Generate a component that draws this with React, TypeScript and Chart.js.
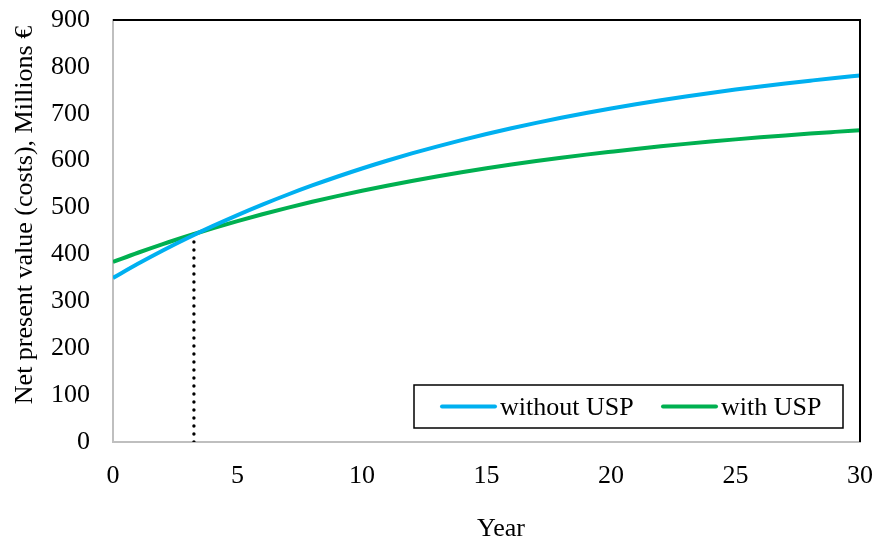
import React, { useEffect, useRef } from "react";
import { Chart, registerables } from "chart.js";

Chart.register(...registerables);

const years = [0, 1, 2, 3, 4, 5, 6, 7, 8, 9, 10, 11, 12, 13, 14, 15, 16, 17, 18, 19, 20, 21, 22, 23, 24, 25, 26, 27, 28, 29, 30];
const withoutUSP = [350, 380.1, 408.5, 435.2, 460.3, 484.0, 506.3, 527.3, 547.1, 565.7, 583.3, 599.8, 615.4, 630.0, 643.8, 656.8, 669.0, 680.6, 691.4, 701.7, 711.3, 720.4, 728.9, 736.9, 744.5, 751.6, 758.4, 764.7, 770.6, 776.3, 781.5];
const withUSP = [384, 403.6, 422.1, 439.4, 455.8, 471.2, 485.7, 499.4, 512.3, 524.4, 535.8, 546.6, 556.7, 566.2, 575.2, 583.7, 591.7, 599.2, 606.2, 612.9, 619.1, 625.1, 630.6, 635.8, 640.8, 645.4, 649.8, 653.9, 657.8, 661.4, 664.9];
const breakEvenYear = 3.25;
const breakEvenValue = 445;
const seriesLabels = ["without USP", "with USP"];
const xTitle = "Year";
const yTitle = "Net present value (costs), Millions €";

const FONT = "Liberation Serif";
const BLUE = "#00B0F0";
const GREEN = "#00B050";

const decorPlugin = {
  id: "decor",
  afterDraw(chart: any) {
    const ctx = chart.ctx;
    const a = chart.chartArea;
    ctx.save();
    // top and right frame (black)
    ctx.strokeStyle = "#000";
    ctx.lineWidth = 2;
    ctx.beginPath();
    ctx.moveTo(a.left, a.top);
    ctx.lineTo(a.right, a.top);
    ctx.lineTo(a.right, a.bottom);
    ctx.stroke();

    // legend box
    ctx.fillStyle = "#fff";
    ctx.fillRect(414, 385, 429, 43);
    ctx.strokeStyle = "#000";
    ctx.lineWidth = 1.5;
    ctx.strokeRect(414, 385, 429, 43);
    const items = [
      { color: BLUE, x0: 442, x1: 495, tx: 500, label: chart.data.datasets[0].label },
      { color: GREEN, x0: 663, x1: 716, tx: 721, label: chart.data.datasets[1].label },
    ];
    ctx.font = `26px "${FONT}"`;
    ctx.textBaseline = "alphabetic";
    ctx.textAlign = "left";
    for (const it of items) {
      ctx.strokeStyle = it.color;
      ctx.lineWidth = 4;
      ctx.lineCap = "round";
      ctx.beginPath();
      ctx.moveTo(it.x0, 406.5);
      ctx.lineTo(it.x1, 406.5);
      ctx.stroke();
      ctx.fillStyle = "#000";
      ctx.fillText(it.label, it.tx, 415);
    }

    // axis titles
    ctx.fillStyle = "#000";
    ctx.textAlign = "center";
    ctx.fillText(xTitle, 501, 536);
    ctx.translate(32, 215);
    ctx.rotate(-Math.PI / 2);
    ctx.fillText(yTitle, 0, 0);
    ctx.restore();
  },
};

export default function App() {
  const ref = useRef<HTMLCanvasElement | null>(null);
  useEffect(() => {
    if (!ref.current) return;
    Chart.defaults.font.family = FONT;
    const chart = new Chart(ref.current, {
      type: "line",
      data: {
        datasets: [
          {
            label: seriesLabels[0],
            data: years.map((x, i) => ({ x, y: withoutUSP[i] })),
            borderColor: BLUE,
            borderWidth: 4,
            pointRadius: 0,
            cubicInterpolationMode: "monotone",
          },
          {
            label: seriesLabels[1],
            data: years.map((x, i) => ({ x, y: withUSP[i] })),
            borderColor: GREEN,
            borderWidth: 4,
            pointRadius: 0,
            cubicInterpolationMode: "monotone",
          },
          {
            label: "break-even",
            data: [
              { x: breakEvenYear, y: 0 },
              { x: breakEvenYear, y: breakEvenValue },
            ],
            borderColor: "#000",
            borderWidth: 3.4,
            borderDash: [0, 8],
            borderCapStyle: "round",
            pointRadius: 0,
          },
        ],
      },
      options: {
        animation: false,
        responsive: false,
        devicePixelRatio: 1,
        layout: { padding: { left: 0, top: 20, right: 17, bottom: 0 } },
        plugins: { legend: { display: false }, tooltip: { enabled: false } },
        scales: {
          x: {
            type: "linear",
            min: 0,
            max: 30,
            afterFit: (s: any) => {
              s.height = 98;
              s.paddingLeft = 0;
              s.paddingRight = 0;
            },
            ticks: { stepSize: 5, padding: 19, color: "#000", font: { size: 26, family: FONT } },
            grid: { display: false, drawTicks: false },
            border: { color: "#BFBFBF", width: 2 },
          },
          y: {
            min: 0,
            max: 900,
            afterFit: (s: any) => {
              s.width = 113;
              s.paddingTop = 0;
              s.paddingBottom = 0;
            },
            ticks: { stepSize: 100, padding: 23, color: "#000", font: { size: 26, family: FONT } },
            grid: { display: false, drawTicks: false },
            border: { color: "#BFBFBF", width: 2 },
          },
        },
      },
      plugins: [decorPlugin],
    } as any);
    return () => chart.destroy();
  }, []);
  return (
    <div style={{ position: "fixed", left: 0, top: 0, width: 877, height: 540, background: "#fff" }}>
      <canvas ref={ref} width={877} height={540} />
    </div>
  );
}
